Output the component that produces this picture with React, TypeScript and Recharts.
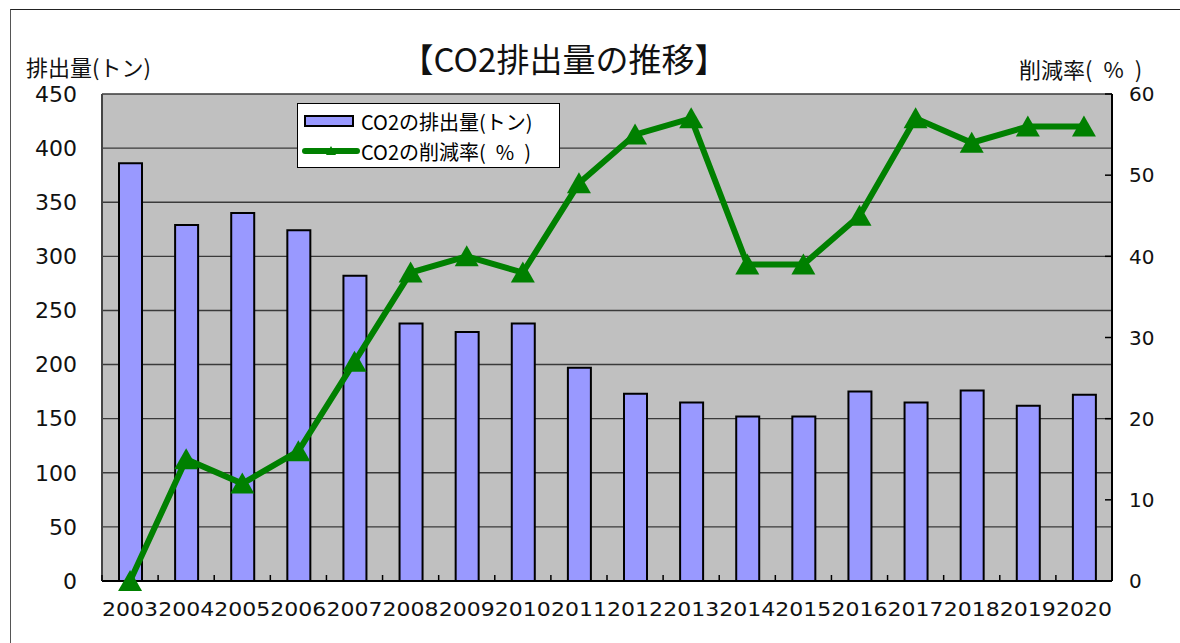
import React from "react";
import {
  ComposedChart, Bar, Line, XAxis, YAxis, CartesianGrid, Legend,
} from "recharts";

const years = [
  "2003", "2004", "2005", "2006", "2007", "2008", "2009", "2010", "2011",
  "2012", "2013", "2014", "2015", "2016", "2017", "2018", "2019", "2020",
];
const emissions = [386, 329, 340, 324, 282, 238, 230, 238, 197, 173, 165, 152, 152, 175, 165, 176, 162, 172];
const reductionRate = [0, 15, 12, 16, 27, 38, 40, 38, 49, 55, 57, 39, 39, 45, 57, 54, 56, 56];
const leftTicks = [0, 50, 100, 150, 200, 250, 300, 350, 400, 450];
const rightTicks = [0, 10, 20, 30, 40, 50, 60];

const data = years.map((year, i) => ({
  year,
  emissions: emissions[i],
  rate: reductionRate[i],
}));

const JP = '"Noto Sans CJK JP", "Noto Sans", sans-serif';
const NUM = '"DejaVu Sans", Verdana, sans-serif';
const GREEN = "#008000";
const BAR = "#9999FF";
const PCT = "(\u2002%\u2002)";

function Triangle(props: any) {
  const { cx, cy } = props;
  if (cx == null || cy == null) return null;
  return (
    <polygon
      points={`${cx},${cy - 11} ${cx - 12},${cy + 10} ${cx + 12},${cy + 10}`}
      fill={GREEN}
    />
  );
}

const X_MARGIN = 21;
function YearTick(props: any) {
  const { x, y, payload } = props;
  const half = payload?.offset ?? 1010 / 18 / 2;
  const axisY = y - X_MARGIN;
  return (
    <g>
      <line x1={x - half} x2={x - half} y1={axisY - 6} y2={axisY} stroke="#000" strokeWidth={1.5} />
      <text
        x={x}
        y={y}
        dy="0.72em"
        textAnchor="middle"
        fontFamily={NUM}
        fontSize={20}
        fill="#111"
        textLength={56}
        lengthAdjust="spacingAndGlyphs"
      >
        {payload.value}
      </text>
    </g>
  );
}

const R_MARGIN = 17;
function RateTick(props: any) {
  const { x, y, payload } = props;
  const axisX = x - R_MARGIN;
  return (
    <g>
      <line x1={axisX - 7} x2={axisX} y1={y} y2={y} stroke="#000" strokeWidth={1.5} />
      <text x={x} y={y} dy="0.36em" textAnchor="start" fontFamily={NUM} fontSize={20} fill="#111">
        {payload.value}
      </text>
    </g>
  );
}

function LegendBox() {
  const row: React.CSSProperties = {
    display: "flex",
    alignItems: "center",
    height: 30,
    fontFamily: JP,
    fontSize: 20,
    color: "#000",
    whiteSpace: "nowrap",
  };
  return (
    <div
      style={{
        width: 263,
        height: 65,
        boxSizing: "border-box",
        border: "1px solid #000",
        background: "#fff",
        padding: "2px 0 0 4px",
      }}
    >
      <div style={row}>
        <span
          style={{
            display: "inline-block",
            width: 50,
            height: 12,
            boxSizing: "border-box",
            background: BAR,
            border: "2px solid #000",
            margin: "0 7px 0 2px",
          }}
        />
        CO2の排出量(トン)
      </div>
      <div style={row}>
        <svg width={58} height={16} style={{ marginRight: 1 }}>
          <line x1={3} x2={55} y1={8} y2={8} stroke={GREEN} strokeWidth={6} strokeLinecap="round" />
          <polygon points="29,3 24,12 34,12" fill={GREEN} />
        </svg>
        CO2の削減率{PCT}
      </div>
    </div>
  );
}

export default function App() {
  return (
    <div style={{ position: "absolute", left: 0, top: 0, width: 1180, height: 643, background: "#fff", overflow: "hidden" }}>
      <div
        style={{
          position: "absolute",
          left: 10,
          top: 9,
          width: 1200,
          height: 700,
          borderTop: "1.5px solid #222",
          borderLeft: "1.5px solid #555",
        }}
      />
      <div style={{ position: "absolute", left: 0, top: 0 }}>
        <ComposedChart
          width={1180}
          height={643}
          data={data}
          margin={{ top: 94, right: 0, bottom: 0, left: 0 }}
          barCategoryGap="58%"
        >
          <CartesianGrid
            yAxisId="left"
            vertical={false}
            fill="#C0C0C0"
            fillOpacity={1}
            stroke="#3a3a3a"
            strokeWidth={1.4}
          />
          <XAxis
            dataKey="year"
            height={62}
            interval={0}
            tickSize={0}
            tickMargin={X_MARGIN}
            tickLine={false}
            axisLine={{ stroke: "#000", strokeWidth: 2 }}
            tick={<YearTick />}
          />
          <YAxis
            yAxisId="left"
            width={102}
            domain={[0, 450]}
            ticks={leftTicks}
            interval={0}
            tickSize={0}
            tickMargin={25}
            tickLine={false}
            axisLine={{ stroke: "#444", strokeWidth: 2 }}
            tick={{ fill: "#111", fontSize: 22, fontFamily: NUM }}
          />
          <YAxis
            yAxisId="right"
            orientation="right"
            width={68}
            domain={[0, 60]}
            ticks={rightTicks}
            interval={0}
            tickSize={0}
            tickMargin={R_MARGIN}
            tickLine={false}
            axisLine={{ stroke: "#000", strokeWidth: 2 }}
            tick={<RateTick />}
          />
          <Legend
            layout="horizontal"
            verticalAlign="middle"
            align="center"
            content={() => <LegendBox />}
            wrapperStyle={{ left: 297, top: 103, width: 263, height: 65 }}
          />
          <Bar
            yAxisId="left"
            dataKey="emissions"
            fill={BAR}
            stroke="#000"
            strokeWidth={2}
            barSize={23}
            isAnimationActive={false}
          />
          <Line
            yAxisId="right"
            dataKey="rate"
            stroke={GREEN}
            strokeWidth={6}
            dot={<Triangle />}
            activeDot={false}
            isAnimationActive={false}
          />
        </ComposedChart>
      </div>
      <div
        style={{
          position: "absolute",
          left: 0,
          width: 1128,
          top: 35,
          textAlign: "center",
          fontFamily: JP,
          fontSize: 33,
          lineHeight: "46px",
          color: "#111",
        }}
      >
        【CO2排出量の推移】
      </div>
      <div style={{ position: "absolute", left: 26, top: 50, fontFamily: JP, fontSize: 22, lineHeight: "32px", color: "#111" }}>
        排出量(トン)
      </div>
      <div style={{ position: "absolute", left: 1019, top: 54, fontFamily: JP, fontSize: 22, lineHeight: "28px", color: "#111" }}>
        削減率{PCT}
      </div>
    </div>
  );
}
